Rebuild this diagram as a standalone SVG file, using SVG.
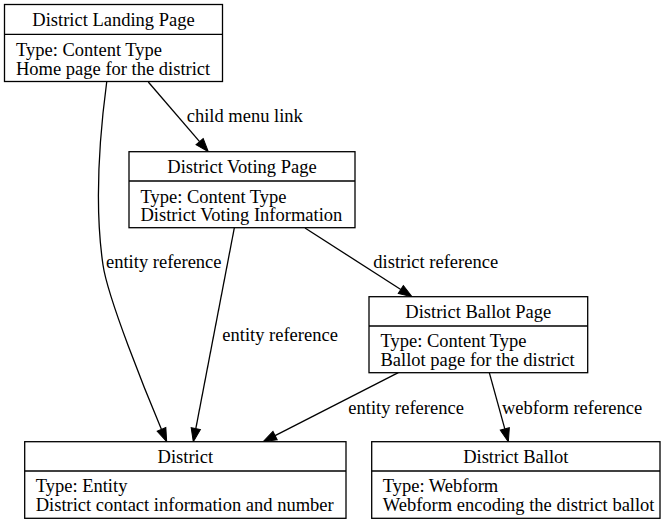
<svg xmlns="http://www.w3.org/2000/svg" width="672" height="525" viewBox="0 0 672 525">
<defs>
<style>
text{font-family:"Liberation Serif","Times New Roman",serif;font-size:18.5px;fill:#000}
.t{text-anchor:middle}
.box{fill:#fff;stroke:#000;stroke-width:1.3}
.div{stroke:#000;stroke-width:1.3}
.e{fill:none;stroke:#000;stroke-width:1.3}
</style>
<marker id="ah" markerUnits="userSpaceOnUse" markerWidth="14" markerHeight="10" refX="0" refY="4.7" orient="auto" overflow="visible">
<path d="M0,0 L13.3,4.7 L0,9.4 z" fill="#000" stroke="#000" stroke-width="1"/>
</marker>
</defs>
<rect width="672" height="525" fill="#fff"/>
<g id="connectors">
<path class="e" marker-end="url(#ah)" d="M148.3,82 L199.6,141.6"/>
<text x="186.7" y="121.7">child menu link</text>
<path class="e" marker-end="url(#ah)" d="M106.7,82 C99,140 95,210 103,265 C107.8,298 145.9,392.6 161.5,429.4"/>
<text x="106" y="268">entity reference</text>
<path class="e" marker-end="url(#ah)" d="M234.3,228 L195.8,428.6"/>
<text x="222.3" y="341">entity reference</text>
<path class="e" marker-end="url(#ah)" d="M305,228 L400.8,289.5"/>
<text x="373.3" y="268">district reference</text>
<path class="e" marker-end="url(#ah)" d="M398.3,372.7 L275.1,435.6"/>
<text x="348.3" y="414">entity reference</text>
<path class="e" marker-end="url(#ah)" d="M489.3,372.7 L504.8,428.9"/>
<text x="502" y="414">webform reference</text>
</g>
<g id="landing">
<rect class="box" x="4.5" y="4.5" width="218" height="77"/>
<line class="div" x1="4.5" y1="34.3" x2="222.5" y2="34.3"/>
<text class="t" x="113.5" y="26">District Landing Page</text>
<text x="16" y="55.7">Type: Content Type</text>
<text x="16" y="74.5">Home page for the district</text>
</g>
<g id="voting">
<rect class="box" x="129" y="151.7" width="226" height="76"/>
<line class="div" x1="129" y1="181" x2="355" y2="181"/>
<text class="t" x="242" y="172.5">District Voting Page</text>
<text x="140.5" y="202.5">Type: Content Type</text>
<text x="140.5" y="221.3">District Voting Information</text>
</g>
<g id="ballotpage">
<rect class="box" x="369" y="296.7" width="218.7" height="76"/>
<line class="div" x1="369" y1="326" x2="587.7" y2="326"/>
<text class="t" x="478.3" y="317.5">District Ballot Page</text>
<text x="380.5" y="347.3">Type: Content Type</text>
<text x="380.5" y="366">Ballot page for the district</text>
</g>
<g id="district">
<rect class="box" x="24.7" y="441.7" width="321.3" height="76.6"/>
<line class="div" x1="24.7" y1="471" x2="346" y2="471"/>
<text class="t" x="185.3" y="462.5">District</text>
<text x="35.7" y="492.3">Type: Entity</text>
<text x="35.7" y="511">District contact information and number</text>
</g>
<g id="ballot">
<rect class="box" x="371.7" y="441.7" width="288.3" height="76.6"/>
<line class="div" x1="371.7" y1="471" x2="660" y2="471"/>
<text class="t" x="515.8" y="462.5">District Ballot</text>
<text x="382.7" y="492.3">Type: Webform</text>
<text x="382.7" y="511">Webform encoding the district ballot</text>
</g>
</svg>
